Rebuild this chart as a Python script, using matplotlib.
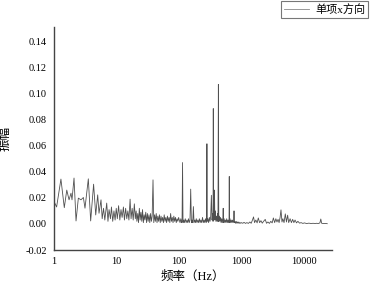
import numpy as np
import matplotlib.pyplot as plt
from matplotlib.ticker import FixedLocator, NullLocator

plt.rcParams['font.family'] = ['Liberation Serif', 'Noto Sans CJK SC', 'DejaVu Sans']

# (frequency Hz, amplitude)
low_band = [(1.0, .0172), (1.1, .013), (1.29, .0344), (1.46, .0125), (1.6, .026),
            (1.74, .0185), (1.87, .0236), (1.94, .0185), (2.09, .0352), (2.25, .0023),
            (2.45, .0198), (2.7, .0185), (2.95, .0203), (3.13, .0121), (3.54, .0346),
            (3.86, .0023), (4.3, .0305), (4.65, .0069), (5.0, .0223), (5.25, .0082),
            (5.65, .0185), (5.9, .004), (6.2, .012), (6.5, .003), (6.97, .016),
            (7.3, .002), (7.6, .011), (8.0, .004), (8.3, .013), (8.7, .002),
            (9.1, .010), (9.5, .003), (9.9, .012), (10.3, .004), (10.8, .014),
            (11.3, .003), (11.8, .011), (12.3, .005), (12.9, .013), (13.4, .003),
            (14.0, .012), (14.6, .004), (15.2, .010), (15.8, .003), (16.5, .019),
            (17.1, .004), (17.8, .012), (18.5, .003), (19.3, .0154), (20.0, .004)]

mid_band = [(20.6, .010), (21.2, .002), (21.9, .008), (22.5, .001), (23.2, .012),
            (23.9, .003), (24.6, .009), (25.4, .002), (26.1, .011), (26.9, .001),
            (27.7, .007), (28.5, .003), (29.4, .009), (30.3, .001), (31.2, .008),
            (32.1, .002), (33.1, .007), (34.1, .001), (35.1, .008), (36.2, .002),
            (37.2, .006), (38.4, .0338), (39.5, .001), (40.7, .007), (41.9, .002),
            (43.2, .008), (44.5, .001), (45.8, .006), (47.2, .002), (48.6, .007),
            (50.1, .001), (51.6, .006), (53.1, .002), (54.7, .005), (56.4, .001),
            (58.0, .007), (59.8, .002), (61.6, .005), (63.4, .001), (65.3, .006),
            (67.3, .002), (69.3, .005), (71.4, .001), (73.5, .008), (75.7, .002),
            (78.0, .005), (80.3, .001), (82.7, .006), (85.2, .002), (87.8, .005),
            (90.4, .001), (93.1, .004), (95.9, .002), (98.8, .005)]

peak_band = [(101, .003), (104, .001), (107, .004), (110, .001), (112, .002),
             (114, .0471), (116, .001), (119, .003), (122, .001), (126, .004),
             (130, .001), (134, .003), (138, .001), (142, .004), (146, .001),
             (150, .003), (154, .0267), (158, .001), (162, .003), (166, .001),
             (170, .0133), (174, .001), (179, .003), (184, .001), (189, .004),
             (194, .001), (200, .003), (206, .001), (212, .004), (218, .001),
             (224, .003), (231, .001), (238, .005), (245, .001), (252, .003),
             (259, .001), (266, .004), (273, .001), (277, .003), (280, .0615),
             (283, .002), (290, .004), (298, .001), (306, .005), (314, .002),
             (322, .006), (330, .022), (338, .003), (346, .008), (351, .002),
             (354, .0885), (357, .003), (362, .012), (366, .004), (370, .026),
             (375, .003), (382, .010), (390, .002), (398, .006), (406, .002),
             (414, .008), (421, .002), (427, .107), (433, .002), (442, .006),
             (452, .002), (462, .005), (472, .001), (482, .004), (494, .001),
             (505, .005), (510, .012), (516, .001), (528, .004), (540, .001),
             (553, .003), (566, .001), (580, .004), (594, .001), (608, .003),
             (622, .001), (633, .004), (638, .0364), (643, .001), (655, .004),
             (670, .001), (686, .003), (702, .001), (718, .003), (735, .001),
             (752, .002), (760, .010), (768, .001), (786, .002), (805, .0005),
             (824, .002), (844, .0005), (864, .0015), (885, .0005), (906, .0015),
             (928, .0005), (950, .001), (973, .0005), (996, .001)]

high_band = [(1050, .0005), (1100, .0012), (1160, .0004), (1220, .001), (1290, .0004),
             (1360, .0015), (1430, .0005), (1500, .003), (1560, .0054), (1620, .001),
             (1700, .003), (1780, .0008), (1860, .0046), (1950, .001), (2050, .0025),
             (2150, .0006), (2260, .002), (2400, .0035), (2520, .0005), (2650, .0015),
             (2800, .0004), (2950, .002), (3100, .0008), (3240, .0046), (3400, .001),
             (3550, .004), (3700, .0015), (3850, .0035), (4000, .001), (4150, .005),
             (4290, .0108), (4450, .0015), (4600, .004), (4800, .001), (5030, .0077),
             (5250, .0015), (5480, .0067), (5700, .001), (6000, .004), (6300, .001),
             (6600, .0035), (6900, .001), (7200, .003), (7600, .0008), (8000, .002),
             (8500, .0006), (9000, .001), (9600, .0004), (10200, .0008), (11000, .0003),
             (12000, .0006), (13000, .0003), (14000, .0005), (15000, .0003), (16000, .0005),
             (17000, .0003), (18000, .0008), (18600, .0038), (19200, .0005), (20500, .0003),
             (22000, .0004), (23600, .0002)]

x_ticks = [1, 10, 100, 1000, 10000]
y_ticks = [-0.02, 0.0, 0.02, 0.04, 0.06, 0.08, 0.10, 0.12, 0.14]

freq, amp = np.array(low_band + mid_band + peak_band + high_band).T

fig = plt.figure(figsize=(3.7, 2.85), dpi=100)
ax = fig.add_axes([0.146, 0.1228, 0.751, 0.782])
line, = ax.plot(freq, amp, color='#505050', lw=0.6, label='单项x方向')

ax.set_xscale('log')
ax.set_xlim(1, 28000)
ax.set_ylim(-0.02, 0.151)
ax.xaxis.set_major_locator(FixedLocator(x_ticks))
ax.xaxis.set_minor_locator(NullLocator())
ax.set_xticklabels([str(t) for t in x_ticks])
ax.set_yticks(y_ticks)
ax.set_yticklabels(['%.2f' % t if t != 0 else '0.00' for t in y_ticks])
ax.tick_params(length=0, labelsize=7.5, pad=5)

for s in ['top', 'right']:
    ax.spines[s].set_visible(False)
for s in ['left', 'bottom']:
    ax.spines[s].set_color('#444444')
    ax.spines[s].set_linewidth(1.0)

ax.set_xlabel('频率（Hz）', fontsize=9, labelpad=3)
ax.set_ylabel('振幅', fontsize=9, labelpad=10)

leg = fig.legend(handles=[line], loc='upper right', bbox_to_anchor=(0.995, 0.995),
                 fontsize=8, frameon=True, fancybox=False, edgecolor='#555555',
                 handlelength=2.2, borderpad=0.25, handletextpad=0.6,
                 borderaxespad=0.0)
leg.get_frame().set_linewidth(0.8)
leg.get_lines()[0].set_color('#888888')

fig.savefig('out.png', dpi=100)
plt.close(fig)
